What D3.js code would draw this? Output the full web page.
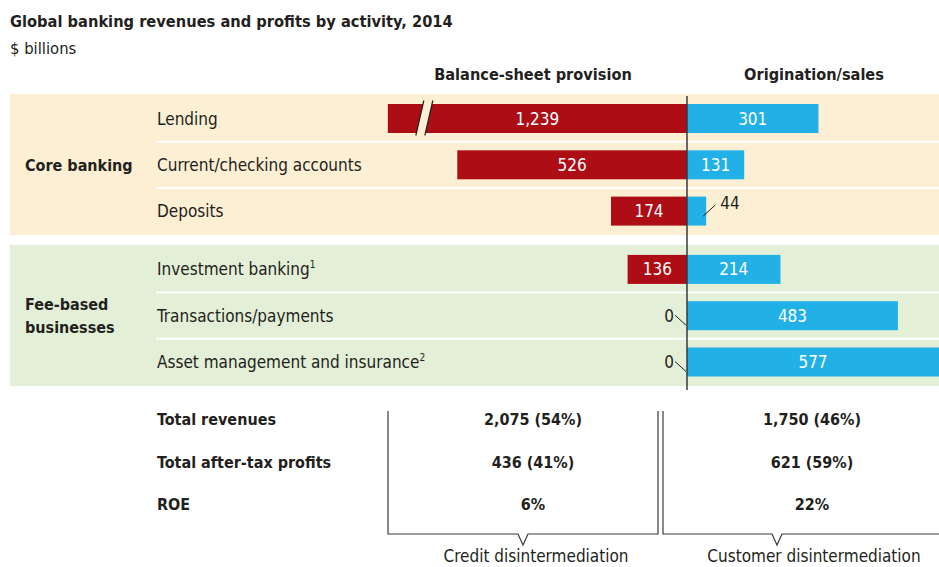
<!DOCTYPE html>
<html>
<head>
<meta charset="utf-8">
<script src="https://cdn.jsdelivr.net/npm/d3@7/dist/d3.min.js"></script>
<style>
  body { margin: 0; background: #fff; }
  svg { display: block; font-family: "Liberation Sans Narrow", "DejaVu Sans Condensed", "Roboto", sans-serif; }
</style>
</head>
<body>
<div id="chart"></div>
<script>
// --- data ---
const groups = ["Core banking", "Fee-based businesses"];
const activities = ["Lending", "Current/checking accounts", "Deposits",
  "Investment banking", "Transactions/payments", "Asset management and insurance"];
const activityGroup = [0, 0, 0, 1, 1, 1];
const footnotes = ["", "", "", "1", "", "2"];
const balanceSheet = [1239, 526, 174, 136, 0, 0];
const origination = [301, 131, 44, 214, 483, 577];
const sideHeaders = ["Balance-sheet provision", "Origination/sales"];
const summaryLabels = ["Total revenues", "Total after-tax profits", "ROE"];
const balanceSummary = ["2,075 (54%)", "436 (41%)", "6%"];
const originationSummary = ["1,750 (46%)", "621 (59%)", "22%"];
const bracketLabels = ["Credit disintermediation", "Customer disintermediation"];
const lendingShownMax = 685; // the lending bar is drawn broken at this length

const width = 939, height = 567;
const red = "#ad0d15", blue = "#22b1e6", ink = "#231f20";
const bandColors = ["#fdefd4", "#e3efd7"];

const axisX = 687;
const len = d3.scaleLinear().domain([0, 577]).range([0, 252]);

const rowStep = 46.3, groupGap = 12, firstRow = 118.5, barH = 29;
const rowY = i => firstRow + i * rowStep + activityGroup[i] * groupGap;

const rows = activities.map((name, i) => ({
  name, i, group: activityGroup[i], note: footnotes[i],
  left: balanceSheet[i], right: origination[i]
}));

const svg = d3.select("#chart").append("svg")
  .attr("width", width).attr("height", height);

// title
svg.append("text").attr("x", 10).attr("y", 27)
  .attr("font-size", 16.3).attr("font-weight", "bold").attr("fill", ink)
  .text("Global banking revenues and profits by activity, 2014");
svg.append("text").attr("x", 10).attr("y", 54)
  .attr("font-size", 16.5).attr("fill", ink).text("$ billions");

// column headers
svg.selectAll(".head").data(sideHeaders).join("text")
  .attr("x", (d, i) => i === 0 ? 533 : 814).attr("y", 80)
  .attr("text-anchor", "middle").attr("font-size", 16.2).attr("font-weight", "bold")
  .attr("fill", ink).text(d => d);

// group bands
const bands = groups.map((g, gi) => {
  const idx = rows.filter(r => r.group === gi).map(r => r.i);
  return { g, gi, top: rowY(d3.min(idx)) - 24.5, bottom: rowY(d3.max(idx)) + 24 };
});
svg.selectAll(".band").data(bands).join("rect")
  .attr("x", 10).attr("y", d => d.top)
  .attr("width", width - 10).attr("height", d => d.bottom - d.top)
  .attr("fill", d => bandColors[d.gi]);

// white separators between rows inside a group
const seps = rows.filter(r => r.i > 0 && activityGroup[r.i - 1] === r.group);
svg.selectAll(".sep").data(seps).join("line")
  .attr("x1", 156).attr("x2", width)
  .attr("y1", d => (rowY(d.i) + rowY(d.i - 1)) / 2)
  .attr("y2", d => (rowY(d.i) + rowY(d.i - 1)) / 2)
  .attr("stroke", "#fff").attr("stroke-width", 2);

// group labels
const gLabel = svg.selectAll(".glabel").data(bands).join("text")
  .attr("font-size", 16).attr("font-weight", "bold").attr("fill", ink);
gLabel.each(function(d) {
  const words = d.gi === 0 ? [d.g] : ["Fee-based", "businesses"];
  const mid = (d.top + d.bottom) / 2;
  d3.select(this).selectAll("tspan").data(words).join("tspan")
    .attr("x", 25)
    .attr("y", (w, k) => mid + 6 + (k - (words.length - 1) / 2) * 23)
    .text(w => w);
});

// activity labels
const lab = svg.selectAll(".alabel").data(rows).join("text")
  .attr("x", 157).attr("y", d => rowY(d.i) + 6)
  .attr("font-size", 17).attr("fill", ink);
lab.append("tspan").text(d => d.name);
lab.append("tspan").attr("font-size", 10).attr("dy", -7).text(d => d.note);

// left bars (balance sheet)
const leftLen = d => len(Math.min(d.left, lendingShownMax));
svg.selectAll(".lbar").data(rows.filter(r => r.left > 0)).join("rect")
  .attr("x", d => axisX - leftLen(d)).attr("y", d => rowY(d.i) - barH / 2)
  .attr("width", d => leftLen(d)).attr("height", barH).attr("fill", red);

// right bars (origination)
svg.selectAll(".rbar").data(rows).join("rect")
  .attr("x", axisX).attr("y", d => rowY(d.i) - barH / 2)
  .attr("width", d => len(d.right)).attr("height", barH).attr("fill", blue);

// break mark on the lending bar
const broken = rows.filter(r => r.left > lendingShownMax);
broken.forEach(d => {
  const cx = axisX - leftLen(d) + 36, cy = rowY(d.i);
  const g = svg.append("g");
  g.append("path")
    .attr("d", `M${cx - 8},${cy + 17} L${cx},${cy - 18} L${cx + 9},${cy - 18} L${cx + 1},${cy + 17} Z`)
    .attr("fill", bandColors[0]);
  [[cx - 8, cx], [cx + 1, cx + 9]].forEach(([a, b]) => {
    g.append("line").attr("x1", a).attr("y1", cy + 17).attr("x2", b).attr("y2", cy - 18)
      .attr("stroke", ink).attr("stroke-width", 1.2);
  });
});

// value labels
const fmt = d3.format(",");
const minInside = 30;
svg.selectAll(".lval").data(rows).join("text")
  .attr("x", d => len(Math.min(d.left, lendingShownMax)) > minInside
    ? axisX - leftLen(d) / 2 : axisX - 13)
  .attr("y", d => rowY(d.i) + 6)
  .attr("text-anchor", d => len(d.left) > minInside ? "middle" : "end")
  .attr("font-size", 17)
  .attr("fill", d => len(d.left) > minInside ? "#fff" : ink)
  .text(d => fmt(d.left));

svg.selectAll(".rval").data(rows).join("text")
  .attr("x", d => len(d.right) > minInside ? axisX + len(d.right) / 2 : axisX + len(d.right) + 14)
  .attr("y", d => len(d.right) > minInside ? rowY(d.i) + 6 : rowY(d.i) - 2)
  .attr("text-anchor", d => len(d.right) > minInside ? "middle" : "start")
  .attr("font-size", 17)
  .attr("fill", d => len(d.right) > minInside ? "#fff" : ink)
  .text(d => fmt(d.right));

// leader lines for labels placed outside
svg.selectAll(".lead-l").data(rows.filter(r => len(r.left) <= minInside)).join("line")
  .attr("x1", axisX - 12).attr("y1", d => rowY(d.i) - 0.5)
  .attr("x2", axisX - 1).attr("y2", d => rowY(d.i) + 9.5)
  .attr("stroke", ink).attr("stroke-width", 1);
svg.selectAll(".lead-r").data(rows.filter(r => len(r.right) <= minInside)).join("line")
  .attr("x1", d => axisX + len(d.right) - 3).attr("y1", d => rowY(d.i) + 5)
  .attr("x2", d => axisX + len(d.right) + 9).attr("y2", d => rowY(d.i) - 6)
  .attr("stroke", ink).attr("stroke-width", 1);

// centre axis
svg.append("line")
  .attr("x1", axisX).attr("x2", axisX)
  .attr("y1", bands[0].top + 2).attr("y2", bands[1].bottom + 4)
  .attr("stroke", "#3a3a3a").attr("stroke-width", 1.5);

// summary table
const sumY = i => 425 + i * 42.5;
svg.selectAll(".slabel").data(summaryLabels).join("text")
  .attr("x", 157).attr("y", (d, i) => sumY(i))
  .attr("font-size", 16).attr("font-weight", "bold").attr("fill", ink).text(d => d);
[balanceSummary, originationSummary].forEach((vals, c) => {
  svg.selectAll(".sv" + c).data(vals).join("text")
    .attr("x", c === 0 ? 533 : 812).attr("y", (d, i) => sumY(i))
    .attr("text-anchor", "middle").attr("font-size", 16).attr("font-weight", "bold")
    .attr("fill", ink).text(d => d);
});

// brackets
const brackets = [
  { x0: 388, x1: 658, tip: 523, right: true, label: bracketLabels[0], lx: 536 },
  { x0: 663, x1: width, tip: 777, right: false, label: bracketLabels[1], lx: 814 }
];
const bTop = 411, bBot = 534;
svg.selectAll(".bracket").data(brackets).join("path")
  .attr("d", d => {
    const p = d3.path();
    p.moveTo(d.x0, bTop); p.lineTo(d.x0, bBot);
    p.lineTo(d.tip - 5, bBot); p.lineTo(d.tip, bBot + 11); p.lineTo(d.tip + 5, bBot);
    p.lineTo(d.x1, bBot);
    if (d.right) p.lineTo(d.x1, bTop);
    return p.toString();
  })
  .attr("fill", "none").attr("stroke", "#3a3a3a").attr("stroke-width", 1.2);
svg.selectAll(".blabel").data(brackets).join("text")
  .attr("x", d => d.lx).attr("y", 562).attr("text-anchor", "middle")
  .attr("font-size", 17).attr("fill", ink).text(d => d.label);
</script>
</body>
</html>
